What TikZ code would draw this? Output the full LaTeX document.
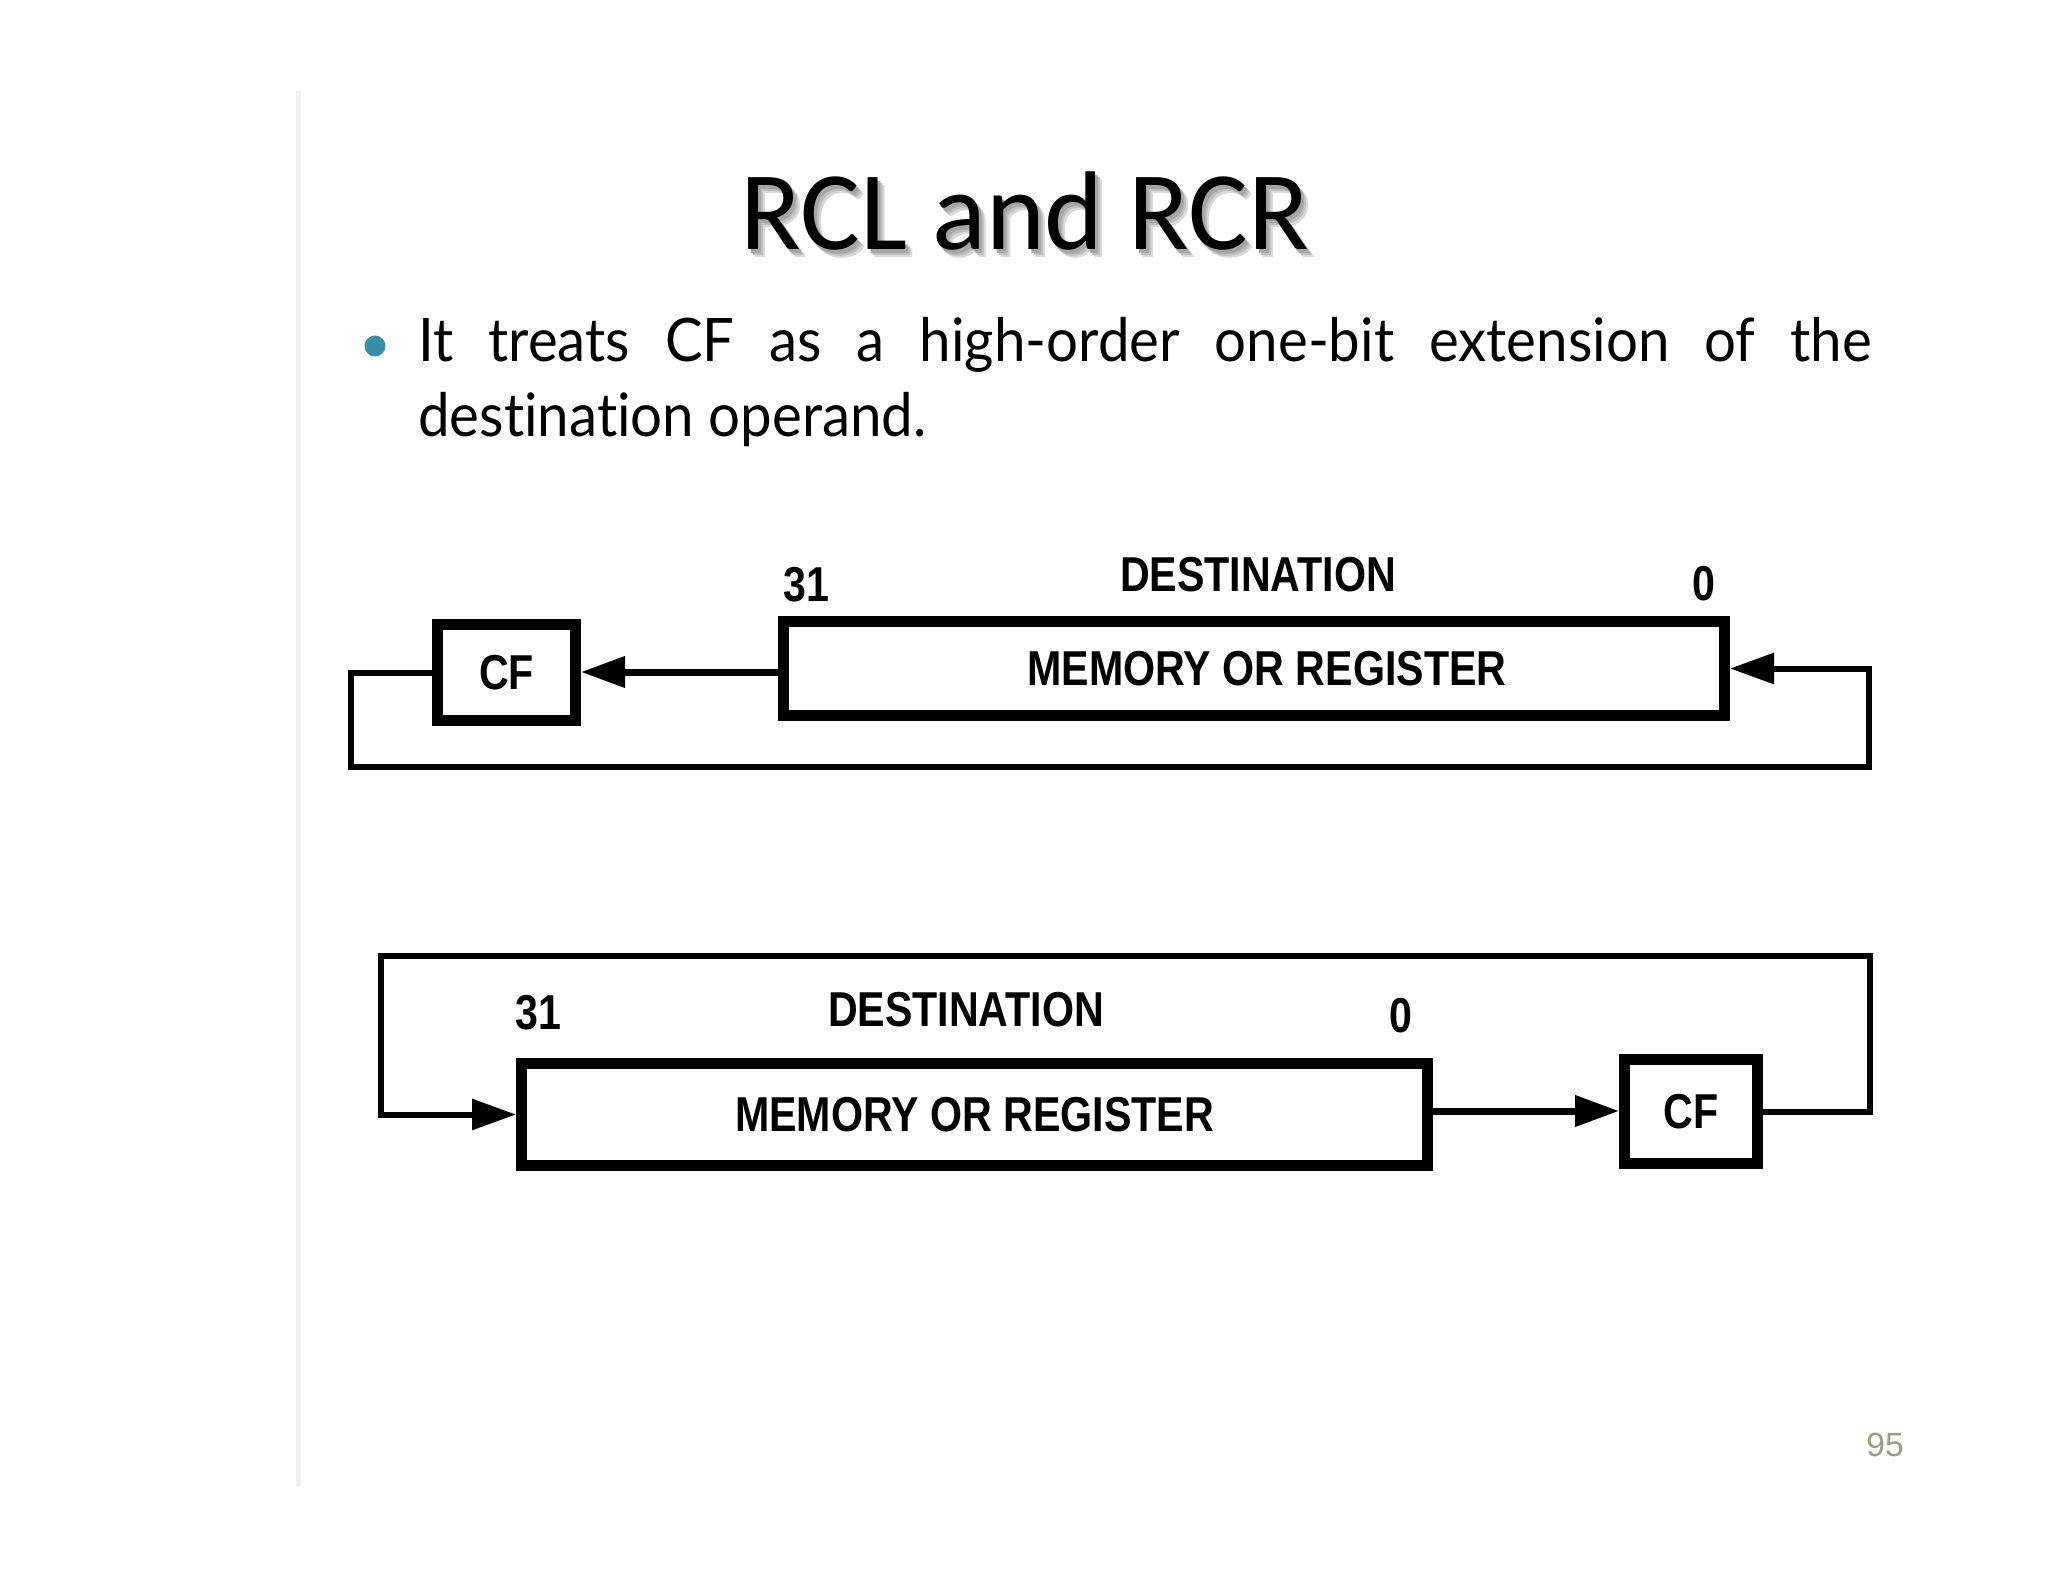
\documentclass[tikz,border=0pt]{standalone}
\usepackage{fontspec}
\usetikzlibrary{arrows.meta}
\newfontfamily\titlefont{Carlito}
\newfontfamily\bodyfont[Ligatures={NoCommon,NoRare,NoContextual}]{Lato}
\newfontfamily\diagfont{Liberation Sans}
\newfontfamily\pagefont{Liberation Sans}
\definecolor{bulletteal}{RGB}{58,143,168}
\definecolor{pagegray}{RGB}{156,156,128}
\newcommand{\dlabtext}[1]{{\diagfont\bfseries\fontsize{24.5pt}{26pt}\selectfont\scalebox{0.84}[1]{#1}}}
\newcommand{\bodyline}[1]{{\bodyfont\fontsize{30pt}{36pt}\selectfont\scalebox{0.94}[1]{#1}}}
\newcommand{\titletext}{{\titlefont\fontsize{56pt}{60pt}\selectfont RCL and RCR}}
\tikzset{
  regbox/.style={draw=black, line width=5.5pt, rectangle, inner sep=0pt, fill=white},
  dlabel/.style={inner sep=0pt},
  titlestyle/.style={anchor=base, inner sep=0pt},
  arrline/.style={draw=black, line width=3.5pt, -{Triangle[length=22pt,width=15pt]}},
  looparr/.style={draw=black, line width=3pt, -{Triangle[length=22pt,width=15pt]}}
}
\begin{document}
\begin{tikzpicture}[x=0.5pt,y=-0.5pt]
\useasboundingbox[fill=white] (0,0) rectangle (2048,1582);
% faint slide edge
\draw[black!6, line width=2.5pt] (298,91) -- (298,1486);
% title with soft shadow
\node[titlestyle, text=black!15] (titleshadowc) at (1032,258) {\titletext};
\node[titlestyle, text=black!25] (titleshadowb) at (1030,256) {\titletext};
\node[titlestyle, text=black!35] (titleshadowa) at (1028,254) {\titletext};
\node[titlestyle] (title) at (1025,250) {\titletext};
% bullet
\node[circle, fill=bulletteal, minimum size=10.5pt, inner sep=0pt] (bullet) at (375,346) {};
\node[anchor=base west, inner sep=0pt] (line1) at (418,362) {\bodyline{\makebox[773pt][s]{It treats CF as a high-order one-bit extension of the}}};
\node[anchor=base west, inner sep=0pt] (line2) at (418,437) {\bodyline{destination operand.}};
% ---------- diagram 1 (RCL) ----------
\node[regbox, minimum width=470.5pt, minimum height=47pt] (mem1) at (1254,668.5) {};
\node[dlabel] (mem1txt) at (1267,669) {\dlabtext{MEMORY OR REGISTER}};
\node[regbox, minimum width=69pt, minimum height=48pt] (cf1) at (506.5,672.5) {\dlabtext{CF}};
\node[dlabel] (b31a) at (806,585) {\dlabtext{31}};
\node[dlabel] (desta) at (1258,575) {\dlabtext{DESTINATION}};
\node[dlabel] (b0a) at (1704,584) {\dlabtext{0}};
\coordinate (l1a) at (351,767);
\coordinate (l1b) at (1869,767);
\draw[arrline] (mem1.west |- 0,672) -- (cf1.east |- 0,672);
\draw[looparr] (cf1.west) -| (l1a) -- (l1b) |- (mem1.east);
% ---------- diagram 2 (RCR) ----------
\node[regbox, minimum width=453pt, minimum height=51pt] (mem2) at (974.5,1114.5) {\dlabtext{MEMORY OR REGISTER}};
\node[regbox, minimum width=66.5pt, minimum height=52pt] (cf2) at (1691,1111.5) {\dlabtext{CF}};
\node[dlabel] (b31b) at (538,1013) {\dlabtext{31}};
\node[dlabel] (destb) at (966,1010) {\dlabtext{DESTINATION}};
\node[dlabel] (b0b) at (1401,1016) {\dlabtext{0}};
\coordinate (l2a) at (1870,956);
\coordinate (l2b) at (381,956);
\draw[arrline] (mem2.east |- 0,1111) -- (cf2.west |- 0,1111);
\draw[looparr] (cf2.east) -| (l2a) -- (l2b) |- (mem2.west);
% page number
\node[inner sep=0pt, text=pagegray] (pagenum) at (1885,1445) {\pagefont\fontsize{16.8pt}{18pt}\selectfont 95};
\end{tikzpicture}
\end{document}
